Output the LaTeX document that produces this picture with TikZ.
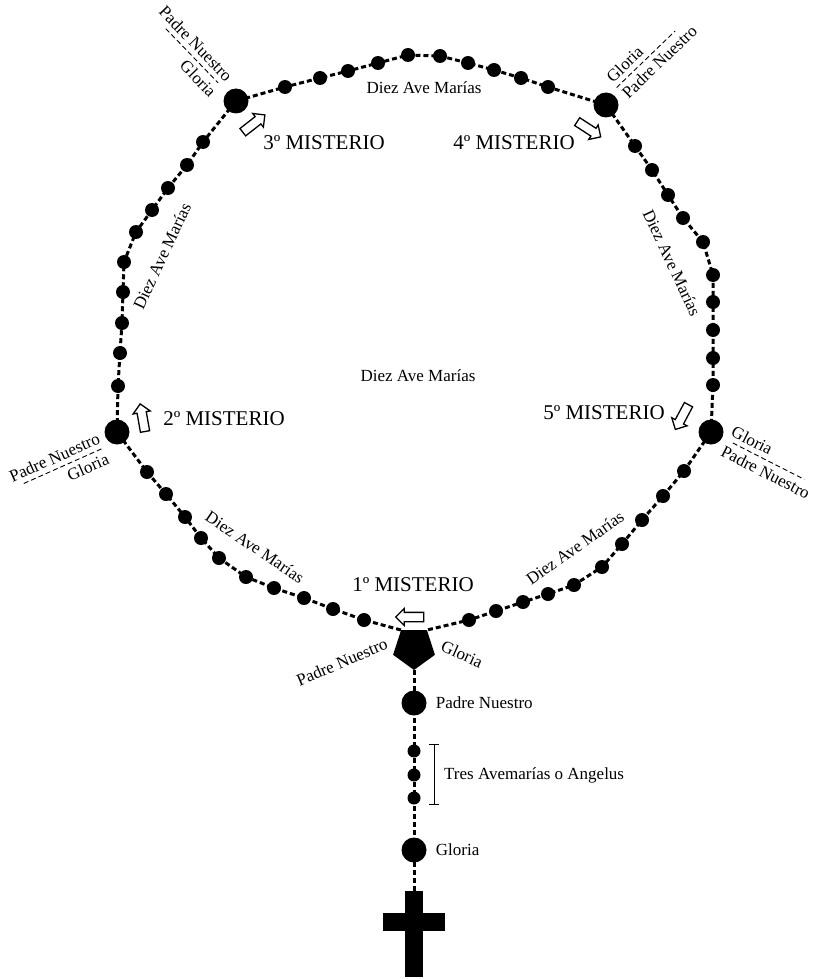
\documentclass[tikz,border=0pt]{standalone}
\usepackage{fontspec}
\setmainfont{Liberation Serif}
\usepackage{tikz}
\usetikzlibrary{arrows.meta,positioning,shapes.geometric,shapes.arrows,backgrounds}
\tikzset{
  bead/.style   ={circle,fill=black,inner sep=0pt,minimum size=14pt},
  bigbead/.style={circle,fill=black,inner sep=0pt,minimum size=25pt},
  medal/.style  ={regular polygon,regular polygon sides=5,shape border rotate=180,
                  fill=black,inner sep=0pt,minimum size=44pt},
  wire/.style   ={line width=3pt,dash pattern=on 5pt off 3pt,draw=black},
  dashsep/.style={line width=0.9pt,dash pattern=on 5pt off 3pt},
  lbl/.style    ={font=\fontsize{17}{20}\selectfont,inner sep=1pt},
  stacklbl/.style={lbl,inner sep=5pt},
  mist/.style   ={font=\fontsize{21}{24}\selectfont,inner sep=1pt},
  mistarrow/.style={single arrow,draw=black,fill=white,line width=1.3pt,
                  minimum height=28pt,single arrow head extend=4pt,inner sep=4pt}
}

\begin{document}
\begin{tikzpicture}[x=1pt,y=-1pt,node distance=8pt]
  \useasboundingbox (0,0) rectangle (821,979);
  \node[medal] (p) at (414,648) {};
  \node[bigbead] (m2) at (117,432) {};
  \node[bigbead] (m3) at (236,101) {};
  \node[bigbead] (m4) at (606,105) {};
  \node[bigbead] (m5) at (711,432) {};
  \foreach \x/\y [count=\i] in {364/620,333/609,304/598,274/588,246/577,
      219/558,201/538,185/517,166/494,147/472}
    \node[bead] (bl\i) at (\x,\y) {};
  \foreach \x/\y [count=\i] in {118/386,120/353,122/323,123/292,124/262,
      136/232,152/210,168/188,187/165,203/142}
    \node[bead] (lf\i) at (\x,\y) {};
  \foreach \x/\y [count=\i] in {285/87,320/78,348/71,378/63,408/55,
      440/56,468/63,494/70,521/78,548/87}
    \node[bead] (tp\i) at (\x,\y) {};
  \foreach \x/\y [count=\i] in {635/146,652/170,668/195,683/218,703/242,
      713/275,713/302,713/330,713/358,713/385}
    \node[bead] (rt\i) at (\x,\y) {};
  \foreach \x/\y [count=\i] in {684/471,663/496,642/520,622/544,602/567,
      574/585,548/594,523/602,496/611,469/620}
    \node[bead] (br\i) at (\x,\y) {};

  \node[bigbead] (pn) at (414,703) {};
  \foreach \y [count=\i] in {751,775,798}
    \node[bead,minimum size=13pt] (av\i) at (414,\y) {};
  \node[bigbead] (gl) at (414,850) {};
  \coordinate (ct) at (414,891);
  \fill (405,891) rectangle (423,977);
  \fill (383,913) rectangle (445,931);

  \begin{scope}[on background layer]
    \draw[wire] (p.corner 4) \foreach \i in {1,...,10}{-- (bl\i.center)} -- (m2.center)
      \foreach \i in {1,...,10}{-- (lf\i.center)} -- (m3.center)
      \foreach \i in {1,...,10}{-- (tp\i.center)} -- (m4.center)
      \foreach \i in {1,...,10}{-- (rt\i.center)} -- (m5.center)
      \foreach \i in {1,...,10}{-- (br\i.center)} -- (p.corner 3);
    \draw[wire] (p.corner 1) -- (pn.center) -- (av1.center) -- (av2.center)
      -- (av3.center) -- (gl.center) -- (ct);
  \end{scope}

  \draw[{Bar[width=10pt]}-{Bar[width=10pt]},line width=1pt]
    ([xshift=20pt]av1.north) -- ([xshift=20pt]av3.south);
  \node[lbl,anchor=west] (tres) at ([xshift=29pt]av2) {Tres Avemarías o Angelus};
  \node[lbl,right=of pn] (pnl) {Padre Nuestro};
  \node[lbl,right=of gl] (gll) {Gloria};

  \node[mist] (t1) at (413,585) {1º MISTERIO};
  \node[mist] (t2) at (224,419) {2º MISTERIO};
  \node[mist] (t3) at (324,143) {3º MISTERIO};
  \node[mist] (t4) at (514,143) {4º MISTERIO};
  \node[mist] (t5) at (604,413) {5º MISTERIO};
  \node[mistarrow,rotate=180] (a1) at (412,617) {};
  \node[mistarrow,rotate=100] (a2) at (143,420) {};
  \node[mistarrow,rotate=38] (a3) at (252,125) {};
  \node[mistarrow,rotate=-33] (a4) at (587,128) {};
  \node[mistarrow,rotate=-118] (a5) at (683,415) {};

  \node[lbl] (d0) at (418,376) {Diez Ave Marías};
  \node[lbl] (dt) at (424,88) {Diez Ave Marías};
  \node[lbl,rotate=65] (dl) at (162,256) {Diez Ave Marías};
  \node[lbl,rotate=-65] (dr) at (672,263) {Diez Ave Marías};
  \node[lbl,rotate=-34] (dbl) at (255,547) {Diez Ave Marías};
  \node[lbl,rotate=35] (dbr) at (575,548) {Diez Ave Marías};

  \node[lbl,rotate=23] (pp) at (342,662) {Padre Nuestro};
  \node[lbl,rotate=-24] (pg) at (462,654) {Gloria};

  \node[stacklbl,rotate=24,anchor=south east] (p2) at (108,446) {Padre Nuestro};
  \node[stacklbl,rotate=24,anchor=north east] (g2) at (108,446) {Gloria};
  \draw[dashsep,shorten <=15pt,shorten >=7pt] (p2.south west) -- (p2.south east);
  \node[stacklbl,rotate=-46,anchor=south east] (p3) at (225,90) {Padre Nuestro};
  \node[stacklbl,rotate=-46,anchor=north east] (g3) at (225,90) {Gloria};
  \draw[dashsep,shorten <=22pt,shorten >=10pt] (p3.south west) -- (p3.south east);
  \node[stacklbl,rotate=44,anchor=south west] (g4) at (613,91) {Gloria};
  \node[stacklbl,rotate=44,anchor=north west] (p4) at (613,91) {Padre Nuestro};
  \draw[dashsep,shorten <=5pt,shorten >=21pt] (p4.north west) -- (p4.north east);
  \node[stacklbl,rotate=-27,anchor=south west] (g5) at (723,438) {Gloria};
  \node[stacklbl,rotate=-27,anchor=north west] (p5) at (723,438) {Padre Nuestro};
  \draw[dashsep,shorten <=11pt,shorten >=16pt] (p5.north west) -- (p5.north east);
\end{tikzpicture}
\end{document}
